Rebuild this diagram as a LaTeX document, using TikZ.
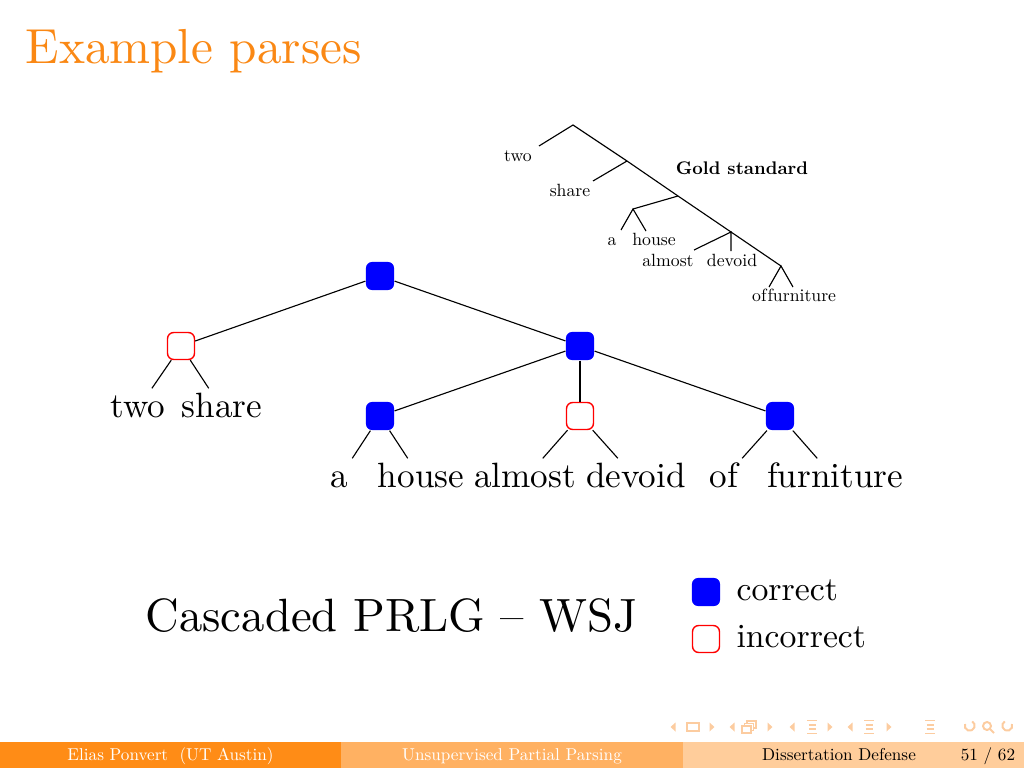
\documentclass[tikz,border=0pt]{standalone}
\usepackage{amsmath}
\usepackage{fontspec}
\setmainfont{lmroman10-regular.otf}[BoldFont=lmroman10-bold.otf]
\usepackage{tikz}

\definecolor{titleorange}{RGB}{250,136,20}
\definecolor{footdark}{RGB}{255,140,22}
\definecolor{footmid}{RGB}{255,177,98}
\definecolor{footlight}{RGB}{255,205,155}
\definecolor{navorange}{RGB}{252,204,160}

\begin{document}
\begin{tikzpicture}[x=0.125mm,y=-0.125mm,
    good/.style={fill=blue,rounded corners=2.2pt,minimum size=10pt,inner sep=0pt},
    bad/.style={draw=red,fill=white,line width=0.5pt,rounded corners=2.2pt,minimum size=9.6pt,inner sep=0pt},
    leaf/.style={font=\fontsize{12.5}{14}\selectfont,anchor=base,inner sep=2pt,text height=8pt,text depth=2pt},
    gleaf/.style={font=\fontsize{6.3}{7}\selectfont,anchor=base,inner sep=0pt},
    foot/.style={font=\fontsize{6.1}{7}\selectfont,anchor=base,inner sep=0pt},
    nav/.style={navorange,line width=0.7pt}]
      \useasboundingbox (0,0) rectangle (1024,768);

      \node [anchor=base west,inner sep=0,text=titleorange,font=\fontsize{17.5}{20}\selectfont] (title) at (25,63) {Example parses};

      \coordinate (g0) at (573,125);
      \coordinate (g1) at (627,161);
      \coordinate (g2) at (678,196);
      \coordinate (g3) at (731,232);
      \coordinate (g4) at (781,266);
      \coordinate (gAH) at (633,209);
      \coordinate (eTwo) at (539,146);
      \coordinate (eShare) at (593,181);
      \coordinate (eA) at (621,230);
      \coordinate (eHouse) at (646,231);
      \coordinate (eAlmost) at (694,250);
      \coordinate (eDevoid) at (731,251);
      \coordinate (eOf) at (769,287);
      \coordinate (eFurn) at (793,287);
      \draw (eTwo) -- (g0) -- (g1) -- (g2) -- (g3) -- (g4);
      \draw (g1) -- (eShare);
      \draw (g2) -- (gAH);
      \draw (eA) -- (gAH) -- (eHouse);
      \draw (eAlmost) -- (g3) -- (eDevoid);
      \draw (eOf) -- (g4) -- (eFurn);
      \node [gleaf] (gTwo) at (518,161) {two};
      \node [gleaf] (gShare) at (570,196) {share};
      \node [gleaf] (gA) at (612,245) {a};
      \node [gleaf] (gHouse) at (654,245) {house};
      \node [gleaf] (gAlmost) at (668,266) {almost};
      \node [gleaf] (gDevoid) at (732,266) {devoid};
      \node [gleaf,anchor=base east] (gOf) at (767,301) {of};
      \node [gleaf,anchor=base west] (gFurn) at (gOf.base east) {furniture};
      \node [gleaf,font=\bfseries\fontsize{6.5}{8}\selectfont] (gold) at (742,175) {Gold standard};

      \node [good] (nRoot) at (380,276) {};
      \node [bad] (nTwoShare) at (181,346) {};
      \node [good] (nRight) at (580,346) {};
      \node [good] (nHouse) at (380,416) {};
      \node [bad] (nDevoid) at (580,416) {};
      \node [good] (nFurn) at (780,416) {};

      \node [leaf] (lTwo) at (138,417) {two};
      \node [leaf] (lShare) at (222,417) {share};
      \node [leaf] (lA) at (339,487) {a};
      \node [leaf] (lHouse) at (421,487) {house};
      \node [leaf] (lAlmost) at (525,487) {almost};
      \node [leaf] (lDevoid) at (636,487) {devoid};
      \node [leaf] (lOf) at (724,487) {of};
      \node [leaf] (lFurn) at (835,487) {furniture};

      \draw (nRoot) -- (nTwoShare);
      \draw (nRoot) -- (nRight);
      \draw (nRight) -- (nHouse);
      \draw (nRight) -- (nDevoid);
      \draw (nRight) -- (nFurn);
      \draw (lTwo) -- (nTwoShare) -- (lShare);
      \draw (lA) -- (nHouse) -- (lHouse);
      \draw (lAlmost) -- (nDevoid) -- (lDevoid);
      \draw (lOf) -- (nFurn) -- (lFurn);

      \node [anchor=base west,inner sep=0,font=\fontsize{16.6}{20}\selectfont] (caption) at (145,631) {Cascaded PRLG -- WSJ};
      \node [good] (kGood) at (706,592) {};
      \node [bad] (kBad) at (706,639) {};
      \node [anchor=base west,inner sep=0,font=\fontsize{12}{14}\selectfont] (kGoodText) at (736,600) {correct};
      \node [anchor=base west,inner sep=0,font=\fontsize{12}{14}\selectfont] (kBadText) at (736,647) {incorrect};

      \foreach \x in {673,732,792,850}
        \fill [navorange] (\x+2.5,722.5) -- (\x+2.5,731.5) -- (\x-2.5,727) -- cycle;
      \foreach \x in {712,770,830,889}
        \fill [navorange] (\x-2.5,722.5) -- (\x-2.5,731.5) -- (\x+2.5,727) -- cycle;
      \draw [nav] (687,723) rectangle (699,731);
      \draw [nav] (742,726) rectangle (751,733);
      \draw [nav] (744.5,726) -- (744.5,723.5) -- (753.5,723.5) -- (753.5,730.5) -- (751,730.5);
      \draw [nav] (747,723.5) -- (747,721) -- (756,721) -- (756,728) -- (753.5,728);
      \foreach \x in {812,869,930} {
        \draw [nav] (\x-5,720.5) -- (\x+5,720.5);
        \draw [nav] (\x-3.5,725) -- (\x+3.5,725);
        \draw [nav] (\x-3.5,729) -- (\x+3.5,729);
        \draw [nav] (\x-5,733.5) -- (\x+5,733.5);
      }
      \draw [nav] (965,724) arc (200:-60:5);
      \draw [nav] (987,726) circle [radius=4];
      \draw [nav] (990,729) -- (994,733);
      \draw [nav] (1012,724) arc (-20:240:5);

      \fill [footdark] (0,742) rectangle (341.3,768);
      \fill [footmid] (341.3,742) rectangle (682.7,768);
      \fill [footlight] (682.7,742) rectangle (1024,768);
      \node [foot,text=white] (fAuthor) at (170.5,760) {Elias Ponvert\ \ (UT Austin)};
      \node [foot,text=white] (fTalk) at (512,760) {Unsupervised Partial Parsing};
      \node [foot] (fEvent) at (839,760) {Dissertation Defense};
      \node [foot] (fPage) at (988,760) {51 / 62};
    \end{tikzpicture}
\end{document}
